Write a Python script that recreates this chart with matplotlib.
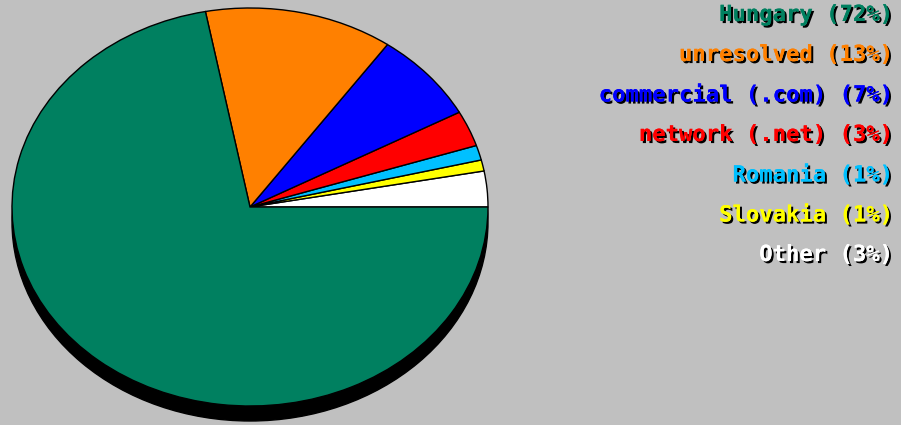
import matplotlib.pyplot as plt
import matplotlib.patheffects as pe
from matplotlib.patches import Ellipse

# Data (listed counterclockwise from 3 o'clock, as drawn)
labels = ['Other', 'Slovakia', 'Romania', 'network (.net)',
          'commercial (.com)', 'unresolved', 'Hungary']
values = [2.9, 0.9, 1.2, 2.9, 7.3, 12.8, 72.0]
colors = ['#ffffff', '#ffff00', '#00c0ff', '#ff0000',
          '#0000ff', '#ff8000', '#008060']

# legend order (top to bottom)
legend_text = ['Hungary (72%)', 'unresolved (13%)', 'commercial (.com) (7%)',
               'network (.net) (3%)', 'Romania (1%)', 'Slovakia (1%)', 'Other (3%)']
legend_colors = colors[::-1]

W, H = 901, 425
cx, cy = 250, 207     # pie centre in pixels
rx, ry = 238, 199     # pie radii in pixels
depth = 15            # 3d shadow thickness

fig = plt.figure(figsize=(W / 100, H / 100), dpi=100, facecolor='#c0c0c0')
ax = fig.add_axes([0, 0, 1, 1])
ax.set_facecolor('#c0c0c0')

# black "3d" base under the pie
ax.add_patch(Ellipse((0, -depth / ry), 2, 2, facecolor='black',
                     edgecolor='black', zorder=0))

ax.pie(values, colors=colors, startangle=0, counterclock=True, radius=1,
       wedgeprops=dict(edgecolor='black', linewidth=1))

ax.set_aspect('auto')
ax.set_xlim(-cx / rx, (W - cx) / rx)
ax.set_ylim(-(H - cy) / ry, cy / ry)
ax.axis('off')

# right side legend, right aligned with black drop shadow
for i, (txt, col) in enumerate(zip(legend_text, legend_colors)):
    y = 15 + 40 * i
    fig.text(893 / W, 1 - y / H, txt, color=col, ha='right', va='center',
             family='DejaVu Sans Mono', fontweight='bold', fontsize=16,
             path_effects=[pe.withSimplePatchShadow(offset=(1.5, -1.5),
                                                    shadow_rgbFace='black',
                                                    alpha=1),
                           pe.Normal()])

plt.savefig('out.png', dpi=100, facecolor='#c0c0c0')
